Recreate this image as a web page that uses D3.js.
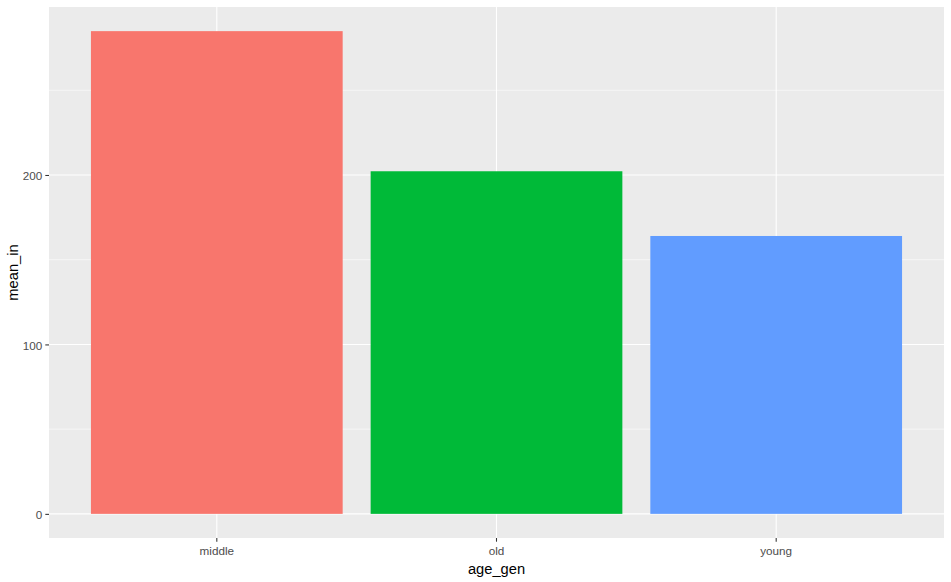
<!DOCTYPE html>
<html><head><meta charset="utf-8">
<script src="https://cdn.jsdelivr.net/npm/d3@7"></script>
<style>body{margin:0;background:#fff}svg{display:block}text{font-family:"Liberation Sans",Arial,sans-serif}</style>
</head><body>
<svg id="c" width="951" height="582"></svg>
<script>
const categories = ["middle","old","young"];
const values = [284.9, 202.2, 164.0];
const colors = ["#F8766D","#00BA38","#619CFF"];
const yTicks = [0,100,200];
const yMinor = [50,150,250];

const svg = d3.select("#c");
const L=49, T=7, R=944, B=538;
const maxV = d3.max(values);
const y = d3.scaleLinear().domain([-0.05*maxV, maxV*1.05]).range([B,T]);
const xc = d3.scaleLinear().domain([0.4, 3.6]).range([L,R]);

svg.append("rect").attr("x",L).attr("y",T).attr("width",R-L).attr("height",B-T).attr("fill","#EBEBEB");
const g = svg.append("g");
g.selectAll(".ymin").data(yMinor).join("line").attr("x1",L).attr("x2",R)
 .attr("y1",d=>y(d)).attr("y2",d=>y(d)).attr("stroke","#fff").attr("stroke-width",0.55);
g.selectAll(".ymaj").data(yTicks).join("line").attr("x1",L).attr("x2",R)
 .attr("y1",d=>y(d)).attr("y2",d=>y(d)).attr("stroke","#fff").attr("stroke-width",1.1);
g.selectAll(".xmaj").data(categories).join("line").attr("y1",T).attr("y2",B)
 .attr("x1",(d,i)=>xc(i+1)).attr("x2",(d,i)=>xc(i+1)).attr("stroke","#fff").attr("stroke-width",1.1);

svg.selectAll(".bar").data(values).join("rect")
 .attr("x",(d,i)=>xc(i+1-0.45)).attr("width",xc(1.45)-xc(0.55))
 .attr("y",d=>y(d)).attr("height",d=>y(0)-y(d)).attr("fill",(d,i)=>colors[i]);

// y axis
const ya = svg.append("g").attr("transform",`translate(${L},0)`)
 .call(d3.axisLeft(y).tickValues(yTicks).tickSize(3.7).tickPadding(3).tickFormat(d3.format("d")));
ya.select(".domain").remove();
ya.selectAll("line").attr("stroke","#333333").attr("stroke-width",1.07);
ya.selectAll("text").attr("fill","#4D4D4D").style("font-size","11.7px").attr("dy","0.4em");

// x axis
const xb = d3.scaleBand().domain(categories).range([xc(0.5),xc(3.5)]);
const xa = svg.append("g").attr("transform",`translate(0,${B})`)
 .call(d3.axisBottom(xb).tickSize(3.7).tickPadding(5));
xa.select(".domain").remove();
xa.selectAll("line").attr("stroke","#333333").attr("stroke-width",1.07);
xa.selectAll("text").attr("fill","#4D4D4D").style("font-size","11.7px");

svg.append("text").attr("x",(L+R)/2).attr("y",574).attr("text-anchor","middle")
 .style("font-size","14.7px").attr("fill","#000").text("age_gen");
svg.append("text").attr("transform",`translate(18,${(T+B)/2}) rotate(-90)`).attr("text-anchor","middle")
 .style("font-size","14.7px").attr("fill","#000").text("mean_in");
</script>
</body></html>
